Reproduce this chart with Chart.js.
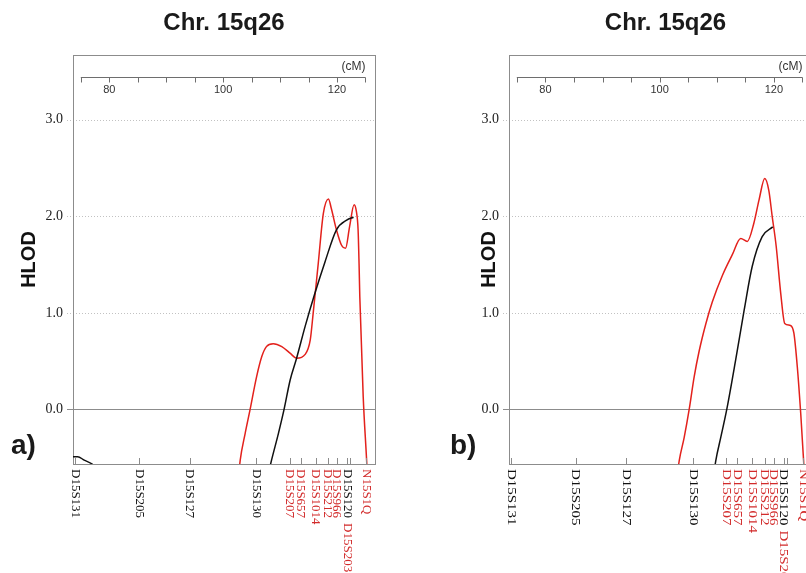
<!DOCTYPE html>
<html>
<head>
<meta charset="utf-8">
<script src="https://cdn.jsdelivr.net/npm/chart.js@4.4.1/dist/chart.umd.min.js"></script>
<style>
html, body { margin: 0; padding: 0; background: #fff; overflow: hidden; width: 806px; height: 573px; }
canvas { position: absolute; top: 0; }
</style>
</head>
<body>
<canvas id="chartA" width="403" height="573" style="left:0"></canvas>
<canvas id="chartB" width="430" height="573" style="left:403px"></canvas>
<script>
// Chr. 15q26 multipoint HLOD, panels a) and b)

// marker map along the bottom (cM positions)
const markerNames = ['D15S131', 'D15S205', 'D15S127', 'D15S130', 'D15S207', 'D15S657', 'D15S1014', 'D15S212', 'D15S966', 'D15S120', 'D15S203', 'N15S1Q'];
const markerCm = [73.98, 85.3, 94.1, 105.85, 111.7, 113.6, 116.25, 118.4, 119.95, 121.75, 122.3, 125.1];
const markerRed = [false, false, false, false, true, true, true, true, true, false, true, true];

// top cM ruler
const cmTicks = [75, 80, 85, 90, 95, 100, 105, 110, 115, 120, 125];
const cmLabels = [80, 100, 120];
const hlodTicks = [0, 1, 2, 3];

// panel a)
const redACm = [102.3, 103.0, 103.86, 104.7, 105.88, 106.8, 107.6, 108.8, 110.3, 111.8, 112.9, 114.4, 115.3, 115.8, 116.7, 117.6, 118.5, 119.0, 119.9, 120.8, 121.5, 122.2, 123.0, 123.4, 123.7, 123.87, 124.0, 124.6, 125.2, 125.5];
const redAHlod = [-0.95, -0.525, -0.25, -0.01, 0.34, 0.55, 0.65, 0.68, 0.65, 0.58, 0.53, 0.57, 0.72, 0.99, 1.51, 2.03, 2.18, 2.08, 1.86, 1.70, 1.67, 1.89, 2.12, 2.05, 1.86, 1.51, 1.17, 0.13, -0.53, -0.9];
const blackACm = [73.63, 74.45, 75.6, 77.0, 79.0, 90.0, 100.0, 107.0, 108.5, 109.7, 110.7, 111.75, 112.9, 114.4, 116.1, 117.9, 119.9, 121.7, 122.9];
const blackAHlod = [-0.49, -0.49, -0.525, -0.567, -0.7, -1.5, -1.5, -0.9, -0.525, -0.25, 0, 0.30, 0.53, 0.86, 1.2, 1.53, 1.86, 1.96, 1.99];

// panel b)
const redBCm = [102.5, 103.43, 104.3, 105.17, 106.05, 106.9, 108.1, 109.2, 111.0, 112.7, 114.2, 115.35, 116.5, 117.4, 118.4, 119.1, 119.7, 120.4, 121.2, 121.9, 122.9, 123.5, 124.1, 124.7, 125.2, 125.5];
const redBHlod = [-0.95, -0.53, -0.29, 0, 0.34, 0.60, 0.89, 1.11, 1.39, 1.60, 1.77, 1.74, 1.93, 2.17, 2.39, 2.27, 2.0, 1.69, 1.20, 0.89, 0.87, 0.79, 0.44, -0.045, -0.53, -0.9];
const blackBCm = [108.5, 109.83, 110.7, 111.75, 113.3, 114.8, 116.2, 117.95, 119.8];
const blackBHlod = [-1.1, -0.53, -0.29, 0, 0.51, 1.03, 1.48, 1.79, 1.89];

const RED = '#e3211c';
const LABEL_RED = '#d22b2b';
const GRAY = '#8c8c8c';
const SANS = '"Liberation Sans", Arial, sans-serif';
const SERIF = '"Liberation Serif", "Times New Roman", serif';

function pts(xs, ys) {
    return xs.map((x, i) => ({ x: x, y: ys[i] }));
}

function panelPlugin(p) {
    return {
        id: 'panel' + p.letter,
        beforeDatasetsDraw(chart) {
            const { ctx, chartArea: a, scales: { x, y } } = chart;
            ctx.save();
            ctx.lineWidth = 1;
            // HLOD grid: solid at 0, dotted above
            hlodTicks.forEach(v => {
                const py = Math.round(y.getPixelForValue(v)) + 0.5;
                ctx.beginPath();
                ctx.setLineDash(v === 0 ? [] : [1, 2]);
                ctx.strokeStyle = v === 0 ? GRAY : '#c2c2c2';
                ctx.moveTo(a.left - 6, py);
                ctx.lineTo(a.right, py);
                ctx.stroke();
            });
            ctx.setLineDash([]);
            // frame
            ctx.strokeStyle = GRAY;
            ctx.strokeRect(Math.round(a.left) + 0.5, Math.round(a.top) + 0.5,
                Math.round(a.right - a.left), Math.round(a.bottom - a.top));
            // cM ruler inside the top of the frame
            const ry = Math.round(a.top + 22) + 0.5;
            ctx.strokeStyle = '#6e6e6e';
            ctx.beginPath();
            ctx.moveTo(x.getPixelForValue(cmTicks[0]), ry);
            ctx.lineTo(x.getPixelForValue(cmTicks[cmTicks.length - 1]), ry);
            cmTicks.forEach(t => {
                const px = Math.round(x.getPixelForValue(t)) + 0.5;
                ctx.moveTo(px, ry);
                ctx.lineTo(px, ry + 5);
            });
            ctx.stroke();
            ctx.fillStyle = '#333';
            ctx.font = '11px ' + SANS;
            ctx.textAlign = 'center';
            ctx.textBaseline = 'middle';
            cmLabels.forEach(t => ctx.fillText(String(t), x.getPixelForValue(t), a.top + 35));
            ctx.font = '12px ' + SANS;
            ctx.textAlign = 'right';
            ctx.fillText('(cM)', x.getPixelForValue(cmTicks[cmTicks.length - 1]), a.top + 12);
            ctx.restore();
        },
        afterDraw(chart) {
            const { ctx, chartArea: a, scales: { x } } = chart;
            ctx.save();
            // marker ticks and rotated names
            ctx.strokeStyle = GRAY;
            ctx.lineWidth = 1;
            ctx.font = '13px ' + SERIF;
            ctx.textBaseline = 'middle';
            ctx.textAlign = 'left';
            let prevX = 0, prevEnd = 0;
            markerNames.forEach((name, i) => {
                const px = x.getPixelForValue(markerCm[i]);
                ctx.beginPath();
                ctx.moveTo(Math.round(px) + 0.5, a.bottom);
                ctx.lineTo(Math.round(px) + 0.5, a.bottom - 6);
                ctx.stroke();
                let lx = px, ly = a.bottom + 5;
                if (name === 'D15S203') { // too close to D15S120, stacked under it
                    lx = prevX;
                    ly = prevEnd + 5;
                }
                ctx.save();
                ctx.translate(lx, ly);
                ctx.rotate(Math.PI / 2);
                ctx.scale(p.stretch, 1);
                ctx.fillStyle = markerRed[i] ? LABEL_RED : '#111';
                ctx.fillText(name, 0, 0);
                ctx.restore();
                prevX = lx;
                prevEnd = ly + ctx.measureText(name).width * p.stretch;
            });
            // title and panel letter
            ctx.fillStyle = '#1a1a1a';
            ctx.font = 'bold 24px ' + SANS;
            ctx.textAlign = 'center';
            ctx.fillText('Chr. 15q26', p.titleX, 23);
            ctx.font = 'bold 28px ' + SANS;
            ctx.textAlign = 'left';
            ctx.fillText(p.letter + ')', p.letterX, 446);
            ctx.restore();
        }
    };
}

function makeChart(id, red, black, p) {
    return new Chart(document.getElementById(id), {
        type: 'line',
        data: {
            datasets: [
                { data: black, borderColor: '#111', borderWidth: 1.5 },
                { data: red, borderColor: RED, borderWidth: 1.5 }
            ]
        },
        options: {
            responsive: false,
            animation: false,
            layout: { padding: { top: 55, right: p.padRight, left: 0, bottom: 0 } },
            elements: {
                point: { radius: 0 },
                line: { cubicInterpolationMode: 'monotone', fill: false }
            },
            plugins: { legend: { display: false }, tooltip: { enabled: false }, title: { display: false } },
            scales: {
                x: {
                    type: 'linear', min: 73.63, max: 126.67,
                    ticks: { display: false },
                    grid: { display: false },
                    border: { display: false },
                    afterFit: s => { s.height = 109; }
                },
                y: {
                    type: 'linear', min: -0.565, max: 3.67,
                    afterBuildTicks: s => { s.ticks = hlodTicks.map(v => ({ value: v })); },
                    ticks: {
                        callback: v => v.toFixed(1),
                        font: { family: SERIF, size: 14 },
                        color: '#222',
                        padding: 10
                    },
                    grid: { display: false, drawTicks: false },
                    border: { display: false },
                    title: {
                        display: true, text: 'HLOD', color: '#111',
                        font: { family: SANS, size: 20, weight: 'bold' },
                        padding: { top: p.hlodPad, bottom: 0 }
                    },
                    afterFit: s => { s.width = p.axisWidth; }
                }
            }
        },
        plugins: [panelPlugin(p)]
    });
}

makeChart('chartA', pts(redACm, redAHlod), pts(blackACm, blackAHlod),
    { letter: 'a', axisWidth: 73, padRight: 28, titleX: 224, letterX: 11, hlodPad: 17, stretch: 1.0 });
makeChart('chartB', pts(redBCm, redBHlod), pts(blackBCm, blackBHlod),
    { letter: 'b', axisWidth: 106, padRight: 21, titleX: 262.5, letterX: 47, hlodPad: 74, stretch: 1.15 });
</script>
</body>
</html>
